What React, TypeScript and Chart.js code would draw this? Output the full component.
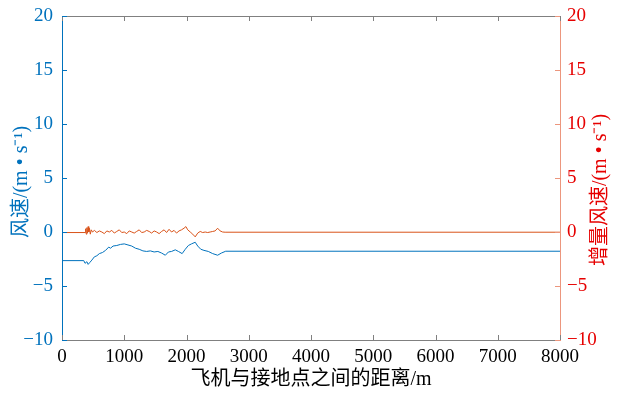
import React, { useEffect, useRef } from "react";
import { Chart, registerables } from "chart.js";

Chart.register(...registerables);

const BLUE = "#0072BD";
const ORANGE = "#D95319";
const RED = "#E60000";
const RIGHT_AXIS = "rgba(236,150,125,1)";
const GREY = "#808080";

const xTitle = "飞机与接地点之间的距离/m";
const yLeftTitle = "风速/(m • s⁻¹)";
const yRightTitle = "增量风速/(m • s⁻¹)";

const xRange = [0, 8000];
const yRange = [-10, 20];

const windDist = [0, 350, 370, 400, 420, 450, 480, 520, 560, 600, 650, 700, 750, 780, 820, 880, 940, 1000, 1060, 1120, 1180, 1240, 1300, 1360, 1420, 1480, 1540, 1600, 1660, 1710, 1760, 1820, 1870, 1930, 1980, 2030, 2080, 2140, 2180, 2230, 2280, 2350, 2420, 2500, 2560, 2630, 8000];
const windSpeed = [-2.65, -2.65, -2.9, -2.75, -3.0, -2.8, -2.6, -2.3, -2.2, -2.0, -1.9, -1.7, -1.4, -1.5, -1.3, -1.25, -1.15, -1.1, -1.2, -1.3, -1.5, -1.6, -1.75, -1.8, -1.75, -1.85, -1.8, -1.95, -2.15, -1.85, -1.8, -1.65, -1.8, -2.0, -1.6, -1.25, -1.1, -0.95, -1.3, -1.6, -1.7, -1.8, -2.0, -2.15, -1.95, -1.78, -1.78];

const incDist = [0, 370, 380, 390, 400, 410, 420, 430, 440, 455, 470, 490, 520, 560, 600, 640, 680, 720, 760, 800, 840, 880, 920, 960, 1000, 1040, 1080, 1120, 1160, 1200, 1240, 1280, 1320, 1360, 1400, 1440, 1480, 1520, 1560, 1600, 1640, 1680, 1720, 1760, 1800, 1840, 1880, 1920, 1960, 1990, 2020, 2060, 2100, 2140, 2180, 2220, 2260, 2300, 2340, 2380, 2420, 2460, 2500, 2540, 2580, 2620, 8000];
const incSpeed = [-0.05, -0.05, 0.3, -0.2, 0.4, -0.1, 0.5, 0.0, 0.35, -0.2, 0.2, 0.0, 0.15, -0.05, 0.1, 0.0, -0.15, 0.1, 0.0, 0.15, -0.1, 0.05, 0.2, -0.05, 0.0, -0.15, 0.1, 0.0, -0.1, 0.05, 0.2, -0.05, 0.0, 0.15, 0.05, -0.1, 0.1, 0.0, -0.15, 0.05, 0.2, -0.05, 0.25, 0.0, 0.15, -0.1, 0.1, 0.2, 0.35, 0.5, 0.2, 0.0, -0.2, -0.45, -0.1, 0.05, -0.05, 0.0, -0.05, 0.0, 0.05, 0.1, 0.35, 0.1, 0.0, -0.02, -0.02];

const TICK_FONT = { family: "'Liberation Serif', serif", size: 19 };
const TITLE_FONT = "20px 'Liberation Serif', 'Noto Sans CJK SC', serif";

const fmt = (v: number | string) => String(v).replace("-", "\u2212");

const zeroPad = (s: any) => {
  s.paddingTop = 0;
  s.paddingBottom = 0;
  s.paddingLeft = 0;
  s.paddingRight = 0;
};

const decorPlugin = {
  id: "decor",
  afterDraw(chart: any) {
    const { ctx, chartArea: a, scales } = chart;
    const x = scales.x, y = scales.y, y1 = scales.y1;
    const L = 5;
    ctx.save();
    ctx.lineWidth = 1;
    ctx.strokeStyle = GREY;
    ctx.beginPath();
    ctx.moveTo(a.left, a.top + 0.5);
    ctx.lineTo(a.right, a.top + 0.5);
    ctx.stroke();
    x.ticks.forEach((t: any) => {
      const px = Math.round(x.getPixelForValue(t.value)) + 0.5;
      ctx.beginPath();
      ctx.moveTo(px, a.bottom);
      ctx.lineTo(px, a.bottom - L);
      ctx.moveTo(px, a.top);
      ctx.lineTo(px, a.top + L);
      ctx.stroke();
    });
    ctx.strokeStyle = BLUE;
    y.ticks.forEach((t: any) => {
      const py = Math.round(y.getPixelForValue(t.value)) + 0.5;
      ctx.beginPath();
      ctx.moveTo(a.left, py);
      ctx.lineTo(a.left + L, py);
      ctx.stroke();
    });
    ctx.strokeStyle = RIGHT_AXIS;
    y1.ticks.forEach((t: any) => {
      const py = Math.round(y1.getPixelForValue(t.value)) + 0.5;
      ctx.beginPath();
      ctx.moveTo(a.right, py);
      ctx.lineTo(a.right - L, py);
      ctx.stroke();
    });
    ctx.font = TITLE_FONT;
    ctx.textAlign = "center";
    ctx.textBaseline = "middle";
    ctx.fillStyle = "#000";
    ctx.fillText(xTitle, (a.left + a.right) / 2, 380);
    ctx.save();
    ctx.fillStyle = BLUE;
    ctx.translate(22, 182);
    ctx.rotate(-Math.PI / 2);
    ctx.fillText(yLeftTitle, 0, 0);
    ctx.restore();
    ctx.save();
    ctx.fillStyle = RED;
    ctx.translate(601, 190);
    ctx.rotate(-Math.PI / 2);
    ctx.fillText(yRightTitle, 0, 0);
    ctx.restore();
    ctx.restore();
  },
};

export default function App() {
  const ref = useRef<HTMLCanvasElement>(null);
  useEffect(() => {
    const canvas = ref.current;
    if (!canvas) return;
    const chart = new Chart(canvas, {
      type: "line",
      data: {
        datasets: [
          {
            label: "风速",
            data: windDist.map((d, i) => ({ x: d, y: windSpeed[i] })),
            borderColor: BLUE,
            borderWidth: 1,
            pointRadius: 0,
            tension: 0,
            yAxisID: "y",
          },
          {
            label: "增量风速",
            data: incDist.map((d, i) => ({ x: d, y: incSpeed[i] })),
            borderColor: ORANGE,
            borderWidth: 1,
            pointRadius: 0,
            tension: 0,
            yAxisID: "y1",
          },
        ],
      },
      options: {
        responsive: false,
        animation: false,
        layout: { padding: { top: 16, left: 0, right: 0, bottom: 0 } },
        plugins: { legend: { display: false }, tooltip: { enabled: false } },
        scales: {
          x: {
            type: "linear",
            min: xRange[0],
            max: xRange[1],
            ticks: { stepSize: 1000, color: "#000", font: TICK_FONT, padding: 6, maxRotation: 0, callback: (v: any) => String(v) },
            grid: { display: false, drawTicks: false },
            border: { display: true, color: GREY },
            afterFit: (s: any) => { s.height = 54; zeroPad(s); },
          },
          y: {
            position: "left",
            min: yRange[0],
            max: yRange[1],
            ticks: { stepSize: 5, color: BLUE, font: TICK_FONT, padding: 9, callback: (v: any) => fmt(v) },
            grid: { display: false, drawTicks: false },
            border: { display: true, color: BLUE },
            afterFit: (s: any) => { s.width = 62; zeroPad(s); },
          },
          y1: {
            position: "right",
            min: yRange[0],
            max: yRange[1],
            ticks: { stepSize: 5, color: RED, font: TICK_FONT, padding: 7, callback: (v: any) => fmt(v) },
            grid: { display: false, drawTicks: false },
            border: { display: true, color: RIGHT_AXIS },
            afterFit: (s: any) => { s.width = 62; zeroPad(s); },
          },
        },
      },
      plugins: [decorPlugin],
    });
    return () => chart.destroy();
  }, []);
  return (
    <div style={{ position: "absolute", left: 0, top: 0, width: 622, height: 394, background: "#fff" }}>
      <canvas ref={ref} width={622} height={394} />
    </div>
  );
}
